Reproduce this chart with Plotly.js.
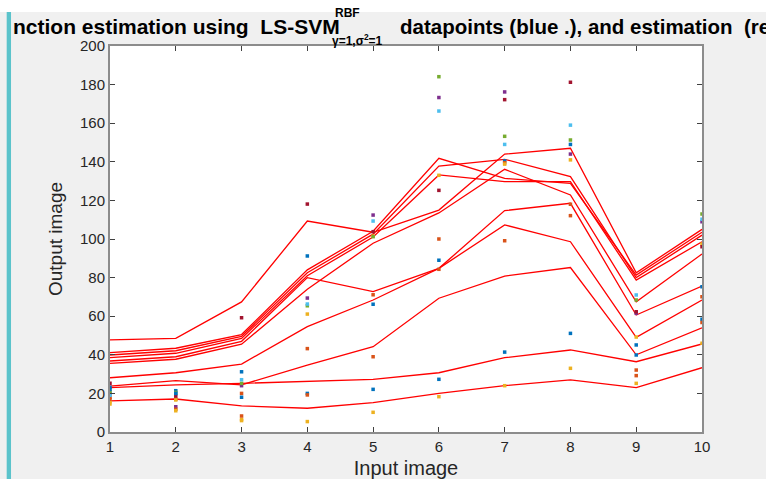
<!DOCTYPE html>
<html>
<head>
<meta charset="utf-8">
<script src="https://cdn.plot.ly/plotly-3.0.1.min.js"></script>
<style>
html,body{margin:0;padding:0;background:#f0f0f0;}
#chart{width:766px;height:479px;}
</style>
</head>
<body>
<div id="chart"></div>
<script>
// x positions (input image index)
const inputImages = [1, 2, 3, 4, 5, 6, 7, 8, 9, 10];

// datapoints, one series per run (MATLAB colour order)
const pts1  = [23.2, 21.4, 31.2, 91.2, 66.2, 89, 140.5, 149, 45.1, 75.3];
const pts2  = [18, 17, 20, 43.2, 71.1, 100, 139.5, 118, 32.1, 70.1];
const pts3  = [15.7, 16.6, 6.5, 61.1, 101.5, 133, 138.8, 141, 49.2, 97.4];
const pts4  = [20, 13.1, 24, 69.4, 112.4, 173.3, 176.2, 144, 61.5, 109];
const pts5  = [21, 20.5, 25.2, 65.4, 101.2, 184.1, 153.2, 151.3, 68.4, 113];
const pts6  = [19, 19.8, 27.1, 66.3, 109.3, 166.3, 149, 159, 71, 110.2];
const pts7  = [25.2, 18.6, 59.2, 118.1, 103.8, 125.2, 172.2, 181.2, 62.3, 96];
const pts8  = [22, 20, 18, 20, 22.1, 27.3, 41.4, 51.1, 39.9, 58.4];
const pts9  = [17, 11.8, 8.3, 19.2, 39, 84.3, 99.1, 112.1, 29.2, 56.8];
const pts10 = [14.5, 11, 5.9, 5.4, 10.2, 18.3, 24, 33, 25.2, 46];

// LS-SVM estimations (red lines)
const est1  = [47.7, 48.5, 67.4, 109.3, 103.5, 115, 144, 147, 82.5, 105];
const est2  = [41.1, 43.4, 50.5, 84, 104, 141.8, 131.4, 128.8, 81.3, 103.5];
const est3  = [39.9, 42.1, 49.5, 82.5, 102.5, 137.8, 141.3, 132.3, 80, 102];
const est4  = [38.5, 40.8, 48.5, 81, 101, 133.2, 129.7, 129.7, 78.7, 98.6];
const est5  = [36.8, 39, 47, 80, 72.7, 84.8, 114.7, 118.5, 60.6, 75.6];
const est6  = [35.6, 37.7, 45.5, 74, 97.8, 113.5, 136.1, 122.8, 67.5, 92.2];
const est7  = [28.1, 30.7, 35.2, 54.6, 68.4, 84.8, 107.3, 98.6, 49, 68.4];
const est8  = [23.8, 26.6, 24.4, 34.7, 44.2, 69.3, 80.8, 85.2, 40, 54];
const est9  = [23, 24.4, 25.2, 26.4, 27.3, 30.7, 38.5, 42.5, 36.4, 45.6];
const est10 = [16.1, 17.1, 13.5, 12.3, 15.2, 20, 24, 27, 23, 33.3];

const yTicks = [0, 20, 40, 60, 80, 100, 120, 140, 160, 180, 200];

const pointSeries = [pts1, pts2, pts3, pts4, pts5, pts6, pts7, pts8, pts9, pts10];
const estSeries = [est1, est2, est3, est4, est5, est6, est7, est8, est9, est10];
const colorOrder = ['#0072BD', '#D95319', '#EDB120', '#7E2F8E', '#77AC30', '#4DBEEE', '#A2142F'];

const traces = [];
estSeries.forEach((s) => {
  traces.push({
    x: inputImages, y: s, type: 'scatter', mode: 'lines',
    line: {color: '#ff0000', width: 1.3},
    showlegend: false, hoverinfo: 'skip'
  });
});
pointSeries.forEach((s, i) => {
  traces.push({
    x: inputImages, y: s, type: 'scatter', mode: 'markers',
    marker: {color: colorOrder[i % colorOrder.length], size: 3.5, symbol: 'square'},
    showlegend: false, hoverinfo: 'skip'
  });
});

const FONT = '"Liberation Sans", Arial, Helvetica, sans-serif';
const axisCommon = {
  showgrid: false, zeroline: false, showline: true,
  linecolor: '#8c8c8c', linewidth: 2, mirror: 'allticks',
  ticks: 'inside', ticklen: 5, tickwidth: 1, tickcolor: '#404040',
  tickfont: {family: FONT, size: 15, color: '#262626'}
};

const layout = {
  width: 766, height: 479,
  margin: {l: 110, r: 64, t: 46, b: 47},
  paper_bgcolor: '#f0f0f0', plot_bgcolor: '#ffffff',
  xaxis: Object.assign({}, axisCommon, {
    range: [1, 10], tickmode: 'array', tickvals: inputImages, ticktext: inputImages.map(String),
    title: {text: 'Input image', font: {family: FONT, size: 20, color: '#262626'}, standoff: 8}
  }),
  yaxis: Object.assign({}, axisCommon, {
    range: [0, 200], tickmode: 'array', tickvals: yTicks, ticktext: yTicks.map(String),
    title: {text: 'Output image', font: {family: FONT, size: 19, color: '#262626'}, standoff: 12}
  }),
  shapes: [
    {type: 'rect', xref: 'paper', yref: 'paper', x0: -0.2, x1: 1.2, y0: 1.088, y1: 1.2,
     fillcolor: '#ffffff', line: {width: 0}, layer: 'below'},
    {type: 'rect', xref: 'paper', yref: 'paper', x0: -0.1745, x1: -0.1672, y0: -0.2, y1: 1.088,
     fillcolor: '#5bc3cb', line: {width: 0}, layer: 'below'}
  ],
  annotations: [
    {xref: 'paper', yref: 'paper', x: -0.1672, y: 1.0518, xanchor: 'left', yanchor: 'middle',
     showarrow: false, text: '<b>nction estimation using&nbsp; LS-SVM</b>',
     font: {family: FONT, size: 21, color: '#000000'}},
    {xref: 'paper', yref: 'paper', x: 0.376, y: 1.086, xanchor: 'left', yanchor: 'middle',
     showarrow: false, text: '<b>RBF</b>',
     font: {family: FONT, size: 12, color: '#000000'}},
    {xref: 'paper', yref: 'paper', x: 0.372, y: 1.016, xanchor: 'left', yanchor: 'middle',
     showarrow: false, text: '<b>γ=1,σ<sup>2</sup>=1</b>',
     font: {family: FONT, size: 12, color: '#000000'}},
    {xref: 'paper', yref: 'paper', x: 0.4865, y: 1.0518, xanchor: 'left', yanchor: 'middle',
     showarrow: false, text: '<b>datapoints (blue .), and estimation&nbsp; (red line)</b>',
     font: {family: FONT, size: 20.5, color: '#000000'}}
  ]
};

Plotly.newPlot('chart', traces, layout, {displayModeBar: false, staticPlot: true});
</script>
</body>
</html>
